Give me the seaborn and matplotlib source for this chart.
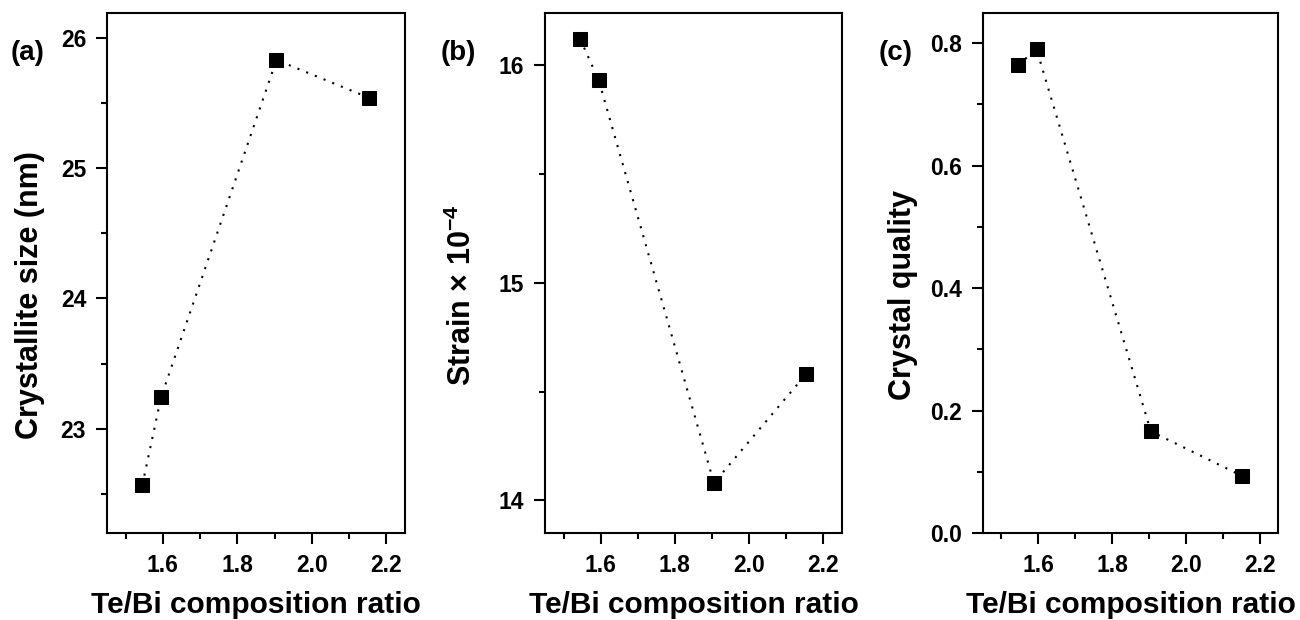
import matplotlib
matplotlib.use("Agg")
import matplotlib.pyplot as plt
import seaborn as sns
import pandas as pd
from matplotlib.ticker import MultipleLocator, AutoMinorLocator, FormatStrFormatter

# ---- data ----
te_bi_ratio = [1.545, 1.595, 1.905, 2.153]
crystallite_size = [22.57, 23.24, 25.83, 25.54]
strain = [16.12, 15.93, 14.08, 14.58]
crystal_quality = [0.764, 0.790, 0.166, 0.093]
panel_labels = ["(a)", "(b)", "(c)"]
y_labels = ["Crystallite size (nm)", r"Strain $\mathrm{\times}$ 10$^{-4}$", "Crystal quality"]
x_label = "Te/Bi composition ratio"

sns.set_style("ticks")
plt.rcParams["font.family"] = ["Liberation Sans", "DejaVu Sans"]
plt.rcParams["font.weight"] = "bold"
plt.rcParams["axes.labelweight"] = "bold"
plt.rcParams["mathtext.fontset"] = "custom"
plt.rcParams["mathtext.rm"] = "Liberation Sans"
plt.rcParams["mathtext.bf"] = "Liberation Sans:bold"
plt.rcParams["mathtext.default"] = "bf"
for k in ["text.color", "axes.labelcolor", "xtick.color", "ytick.color", "axes.edgecolor"]:
    plt.rcParams[k] = "black"

fig = plt.figure(figsize=(13, 6.2), dpi=100)
positions = [
    [0.0823, 0.1403, 0.2292, 0.8387],
    [0.4192, 0.1403, 0.2285, 0.8387],
    [0.7562, 0.1403, 0.2269, 0.8387],
]
series = [crystallite_size, strain, crystal_quality]
ylims = [(22.2, 26.19), (13.85, 16.24), (0.0, 0.849)]
ymajor = [1, 1, 0.2]
yfmt = ["%d", "%d", "%.1f"]
label_x = [28 / 1300, 458 / 1300, 896 / 1300]
ylabel_xpos = [-0.258, -0.279, -0.271]

for i in range(3):
    ax = fig.add_axes(positions[i])
    df = pd.DataFrame({"x": te_bi_ratio, "y": series[i]})
    sns.lineplot(data=df, x="x", y="y", ax=ax, color="black", linestyle=(0, (1, 3.5)),
                 linewidth=1.5, marker="s", markersize=9.5, markeredgecolor="black",
                 markerfacecolor="black", sort=False)
    ax.set_xlim(1.45, 2.25)
    ax.set_ylim(*ylims[i])
    ax.xaxis.set_major_locator(MultipleLocator(0.2))
    ax.xaxis.set_minor_locator(AutoMinorLocator(2))
    ax.yaxis.set_major_locator(MultipleLocator(ymajor[i]))
    ax.yaxis.set_minor_locator(AutoMinorLocator(2))
    ax.tick_params(which="major", direction="out", length=8, width=1.5, labelsize=16.5, pad=7,
                   colors="black")
    ax.tick_params(which="minor", direction="out", length=4.5, width=1.5, colors="black")
    ax.yaxis.set_major_formatter(FormatStrFormatter(yfmt[i]))
    ax.xaxis.set_major_formatter(FormatStrFormatter("%.1f"))
    for lab in ax.get_xticklabels() + ax.get_yticklabels():
        lab.set_fontweight("bold")
    for sp in ax.spines.values():
        sp.set_visible(True)
        sp.set_linewidth(1.5)
        sp.set_color("black")
    ax.set_xlabel(x_label, fontsize=21.5, fontweight="bold", va="baseline")
    ax.xaxis.set_label_coords(0.5, (533 - 613) / 520)
    ax.set_ylabel(y_labels[i], fontsize=22, fontweight="bold", va="center")
    ax.yaxis.set_label_coords(ylabel_xpos[i], (533 - 295) / 520)
    fig.text(label_x[i], 1 - 53 / 620, panel_labels[i], fontsize=20, fontweight="bold",
             ha="center", va="center")

fig.savefig("out.png", dpi=100)
